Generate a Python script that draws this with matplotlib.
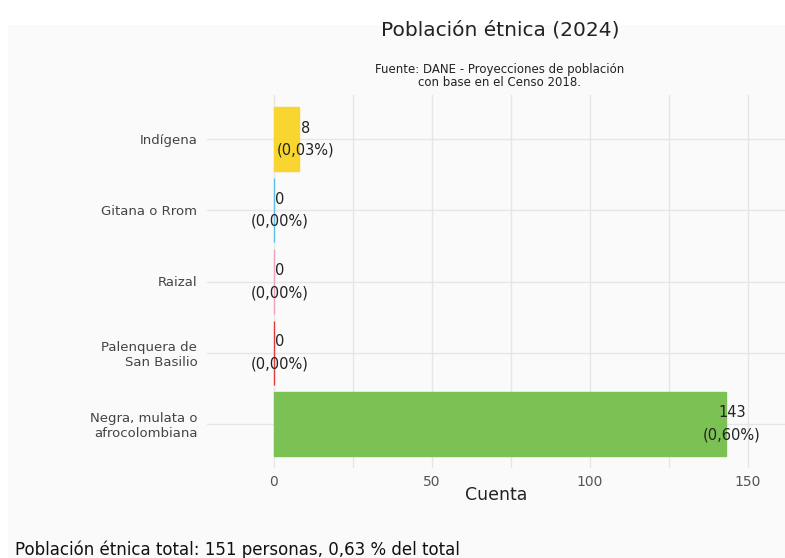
import matplotlib
matplotlib.use("Agg")
import matplotlib.pyplot as plt
from matplotlib.patches import Rectangle
from matplotlib.ticker import MultipleLocator

# data
categorias = ["Indígena", "Gitana o Rrom", "Raizal", "Palenquera de\nSan Basilio",
              "Negra, mulata o\nafrocolombiana"]
cuentas = [8, 0, 0, 0, 143]
porcentajes = ["0,03%", "0,00%", "0,00%", "0,00%", "0,60%"]
colores = ["#f8d62f", "#5bbfe8", "#f2a3bf", "#e23b3b", "#7cc154"]
total_txt = "Población étnica total: 151 personas, 0,63 % del total"

fig = plt.figure(figsize=(7.85, 5.58), dpi=100, facecolor="white")

# light panel behind everything
fig.patches.append(Rectangle((8 / 785, 0), 1, 1 - 25 / 558, transform=fig.transFigure,
                             facecolor="#fafafa", edgecolor="none", zorder=-10))

ax = fig.add_axes([207 / 785, 1 - 468 / 558, 1 - 207 / 785, (468 - 95) / 558])
ax.set_facecolor("#fafafa")

y = list(range(len(categorias)))
ax.barh(y, cuentas, height=0.9, color=colores, edgecolor=colores, linewidth=1, zorder=3)

for yi, v, p in zip(y, cuentas, porcentajes):
    ax.annotate(f"{v}\n({p})", xy=(v, yi), xytext=(6, 0), textcoords="offset pixels",
                ha="center", va="center", fontsize=10.5, color="#222222",
                linespacing=1.6, zorder=4)

ax.set_xlim(-21.2, 161.7)
ax.set_ylim(4.62, -0.62)
ax.set_yticks(y)
ax.set_yticklabels(categorias, fontsize=9.5, color="#444444")
ax.set_xticks([0, 50, 100, 150])
ax.xaxis.set_minor_locator(MultipleLocator(25))
ax.tick_params(axis="x", labelsize=10, labelcolor="#555555", length=0, pad=5, which="both")
ax.tick_params(axis="y", length=0, pad=7)
ax.grid(True, which="both", color="#e6e6e6", linewidth=1, zorder=0)
ax.set_axisbelow(True)
for s in ax.spines.values():
    s.set_visible(False)
ax.set_xlabel("Cuenta", fontsize=12.5, color="#222222", labelpad=-2)

fig.text(500 / 785, 1 - 30 / 558, "Población étnica (2024)", ha="center", va="center",
         fontsize=14.5, color="#222222")
fig.text(500 / 785, 1 - 76 / 558, "Fuente: DANE - Proyecciones de población\ncon base en el Censo 2018.",
         ha="center", va="center", fontsize=8.5, color="#222222", linespacing=1.1)
fig.text(15 / 785, 1 - 550 / 558, total_txt, ha="left", va="center", fontsize=12,
         color="#111111")

fig.savefig("out.png", dpi=100, facecolor=fig.get_facecolor())
